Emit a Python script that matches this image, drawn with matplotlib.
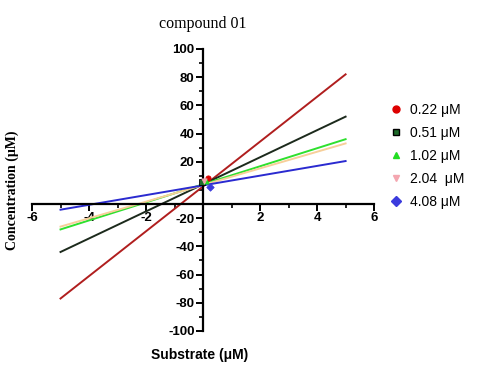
import matplotlib
matplotlib.use('Agg')
import matplotlib.pyplot as plt
from matplotlib.ticker import MultipleLocator, FixedLocator

plt.rcParams['axes.unicode_minus'] = False

# concentrations of the series
labels = ['0.22 \u03bcM', '0.51 \u03bcM', '1.02 \u03bcM', '2.04  \u03bcM', '4.08 \u03bcM']
colors = ['#b01e1e', '#1c2a1c', '#2ee02e', '#f7cf9a', '#2a2ad0']
mcolors = ['#dd0000', '#1e6b2a', '#22dd22', '#f4a6b0', '#3b3bdd']
markers = ['o', 's', '^', 'v', 'D']

# fitted lines, read at x = -5 and x = 5
x_ends = [-5, 5]
y_left = [-77, -44, -28, -26, -14]
y_right = [82, 52, 36, 33, 20.5]

# data points near the origin
pt_x = [0.18, -0.03, 0.1, 0.05, 0.25]
pt_y = [8.5, 5.7, 6.0, 6.5, 2.0]

fig = plt.figure(figsize=(4.88, 3.71), dpi=100)
ax = fig.add_axes([0.0656, 0.108, 0.701, 0.760])

for i in range(len(labels)):
    ax.plot(x_ends, [y_left[i], y_right[i]], color=colors[i], lw=1.4, zorder=2)
for i in range(len(labels)):
    ax.scatter(pt_x[i], pt_y[i], marker=markers[i], s=14, color=mcolors[i],
               edgecolor='k' if i == 1 else mcolors[i], linewidth=0.6, zorder=3)

ax.set_xlim(-6, 6)
ax.set_ylim(-100, 100)
ax.spines['top'].set_visible(False)
ax.spines['right'].set_visible(False)
ax.spines['left'].set_position(('data', 0))
ax.spines['bottom'].set_position(('data', -10))
for s in ['left', 'bottom']:
    ax.spines[s].set_linewidth(1.6)

ax.xaxis.set_major_locator(FixedLocator([-6, -4, -2, 2, 4, 6]))
ax.xaxis.set_minor_locator(MultipleLocator(1))
ax.yaxis.set_major_locator(FixedLocator([-100, -80, -60, -40, -20, 20, 40, 60, 80, 100]))
ax.yaxis.set_minor_locator(MultipleLocator(10))
ax.tick_params(which='major', direction='out', length=5, width=1.4)
ax.tick_params(which='minor', direction='out', length=3, width=1.2)
for lab in ax.get_xticklabels() + ax.get_yticklabels():
    lab.set_fontfamily('Liberation Sans')
    lab.set_fontweight('bold')
    lab.set_fontsize(9.5)
ax.tick_params(axis='x', pad=1)
ax.tick_params(axis='y', pad=1)

ax.text(0.5, 1.09, 'compound 01', transform=ax.transAxes, ha='center', va='center',
        fontsize=11.5, family='Liberation Serif')
ax.text(-0.058, 0.5, 'Concentration (\u03bcM)', transform=ax.transAxes, ha='center',
        va='center', rotation=90, fontsize=10, family='Liberation Serif', fontweight='bold')
ax.text(0.49, -0.085, 'Substrate (\u03bcM)', transform=ax.transAxes, ha='center',
        va='center', fontsize=10, family='Liberation Sans', fontweight='bold')

handles = [plt.Line2D([], [], ls='none', marker=markers[i], color=mcolors[i], ms=5,
                      markeredgecolor='k' if i == 1 else mcolors[i])
           for i in range(len(labels))]
fig.legend(handles, labels, loc='center left', bbox_to_anchor=(0.772, 0.58),
           frameon=False, prop={'family': 'Liberation Sans', 'size': 10},
           handletextpad=0.5, labelspacing=0.65, handlelength=1.0)

fig.savefig('out.png', dpi=100)
